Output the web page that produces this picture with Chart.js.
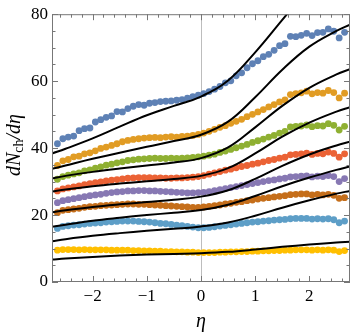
<!DOCTYPE html>
<html lang="en">

<head>
    <meta charset="UTF-8">
    <title>dNch/deta</title>
    <script src="https://cdn.jsdelivr.net/npm/chart.js"></script>
    <style>
        body { margin: 0; background: #fff; }
        #wrap { width: 354px; height: 335px; position: relative; }
    </style>
</head>

<body>
    <div id="wrap"><canvas id="chart"></canvas></div>
    <script>
        // data points (eta positions shared by all series)
        const eta = [-2.65, -2.55, -2.45, -2.35, -2.25, -2.15, -2.05, -1.95, -1.85, -1.75, -1.65, -1.55, -1.45, -1.35,
            -1.25, -1.15, -1.05, -0.95, -0.85, -0.75, -0.65, -0.55, -0.45, -0.35, -0.25, -0.15, -0.05, 0.05, 0.15, 0.25,
            0.35, 0.45, 0.55, 0.65, 0.75, 0.85, 0.95, 1.05, 1.15, 1.25, 1.35, 1.45, 1.55, 1.65, 1.75, 1.85, 1.95, 2.05,
            2.15, 2.25, 2.35, 2.45, 2.55, 2.65];

        const blue = [41.3, 42.8, 43.3, 43.6, 45.2, 45.8, 46.0, 47.8, 48.5, 49.2, 49.6, 50.9, 50.8, 51.8, 52.5, 53.0, 52.8,
            53.4, 53.6, 53.9, 54.0, 54.1, 54.3, 54.5, 54.9, 55.4, 55.8, 56.3, 56.9, 57.6, 58.4, 59.5, 60.1, 61.6, 62.5, 64.0,
            65.2, 66.1, 67.3, 68.0, 69.2, 70.6, 71.2, 73.4, 73.3, 73.7, 74.3, 73.6, 74.5, 74.6, 75.6, 74.9, 72.9, 74.6];
        const orange = [34.8, 36.2, 36.6, 37.4, 37.6, 38.3, 38.6, 39.2, 39.9, 40.3, 40.8, 41.3, 41.9, 42.3, 42.6, 42.8, 43.0,
            43.1, 43.2, 43.1, 43.3, 43.4, 43.3, 43.5, 43.6, 43.8, 44.1, 44.5, 45.0, 45.6, 46.2, 46.7, 47.4, 48.0, 48.6, 49.4,
            50.1, 50.8, 51.5, 52.3, 53.0, 53.8, 54.4, 56.0, 56.3, 56.5, 57.0, 56.2, 56.6, 56.4, 57.2, 56.6, 55.0, 56.4];
        const green = [30.7, 31.5, 31.9, 32.3, 32.6, 33.2, 33.5, 34.0, 34.4, 34.9, 35.2, 35.6, 35.9, 36.3, 36.5, 36.7, 36.8,
            36.9, 37.0, 36.9, 36.9, 37.0, 36.9, 37.0, 37.1, 37.2, 37.4, 37.6, 37.9, 38.2, 38.7, 39.1, 39.6, 40.1, 40.6, 41.1,
            41.7, 42.2, 42.7, 43.3, 43.8, 44.5, 45.0, 46.3, 46.5, 46.6, 46.9, 46.4, 46.7, 46.6, 47.3, 46.8, 45.4, 46.5];
        const red = [27.2, 27.8, 28.1, 28.4, 28.7, 29.1, 29.4, 29.7, 29.9, 30.2, 30.4, 30.6, 30.8, 31.0, 31.1, 31.2, 31.2,
            31.2, 31.1, 31.1, 31.0, 31.0, 31.1, 31.1, 31.2, 31.3, 31.5, 31.8, 32.2, 32.6, 33.0, 33.4, 33.7, 34.1, 34.5, 34.8,
            35.2, 35.5, 35.9, 36.3, 36.6, 37.0, 37.3, 38.0, 38.1, 38.3, 38.5, 38.1, 38.4, 38.3, 38.8, 38.4, 37.3, 38.3];
        const purple = [23.7, 24.3, 24.6, 24.9, 25.2, 25.5, 25.8, 26.0, 26.2, 26.5, 26.7, 26.9, 27.0, 27.2, 27.2, 27.3, 27.3,
            27.2, 27.2, 27.1, 27.0, 26.9, 26.8, 26.7, 26.6, 26.6, 26.7, 26.8, 27.0, 27.3, 27.6, 27.9, 28.2, 28.5, 28.8, 29.1,
            29.4, 29.7, 30.0, 30.3, 30.5, 30.8, 31.0, 31.4, 31.5, 31.6, 31.7, 31.4, 31.6, 31.5, 31.8, 31.5, 30.0, 30.9];
        const brown = [20.7, 21.4, 21.6, 21.8, 22.0, 22.3, 22.5, 22.6, 22.8, 22.9, 23.0, 23.1, 23.2, 23.3, 23.3, 23.2, 23.2,
            23.1, 23.0, 22.9, 22.8, 22.7, 22.6, 22.5, 22.4, 22.3, 22.3, 22.4, 22.6, 22.8, 23.0, 23.3, 23.5, 23.8, 24.0, 24.3,
            24.5, 24.8, 25.0, 25.2, 25.4, 25.6, 25.8, 26.1, 26.2, 26.3, 26.3, 26.0, 26.2, 26.0, 26.2, 25.9, 25.0, 25.2];
        const lightblue = [16.0, 16.6, 16.8, 17.0, 17.1, 17.3, 17.5, 17.6, 17.7, 17.9, 18.0, 18.1, 18.2, 18.2, 18.2, 18.1, 18.0,
            17.9, 17.7, 17.5, 17.4, 17.2, 17.0, 16.8, 16.6, 16.4, 16.2, 16.2, 16.3, 16.5, 16.7, 16.9, 17.1, 17.3, 17.5, 17.7,
            17.9, 18.0, 18.2, 18.3, 18.5, 18.6, 18.7, 18.9, 19.0, 19.0, 19.0, 18.8, 18.9, 18.8, 18.9, 18.6, 17.7, 18.2];
        const yellow = [9.5, 9.7, 9.7, 9.7, 9.6, 9.7, 9.6, 9.6, 9.6, 9.6, 9.5, 9.5, 9.5, 9.5, 9.4, 9.4, 9.3,
            9.3, 9.2, 9.2, 9.1, 9.1, 9.0, 9.0, 8.9, 8.9, 8.8, 8.8, 8.8, 8.8, 8.9, 8.9, 9.0, 9.0, 9.1, 9.1,
            9.2, 9.2, 9.3, 9.3, 9.4, 9.4, 9.5, 9.5, 9.6, 9.6, 9.6, 9.5, 9.6, 9.5, 9.6, 9.5, 9.1, 9.4];

        // model curves (black lines)
        const etaModel = [-2.75, -2.5, -2, -1.5, -1, -0.5, 0, 0.5, 1, 1.5, 2, 2.5, 2.75];
        const modelBlue = [38.4, 39.8, 42.9, 46.4, 49.8, 52.6, 55.4, 60.2, 68.6, 78.3, 88.0, 96.5, 100.0];
        const modelOrange = [33.8, 34.8, 36.8, 38.6, 40.4, 42.1, 44.0, 47.9, 55.2, 63.4, 70.3, 75.0, 76.9];
        const modelGreen = [30.9, 31.7, 32.9, 33.9, 34.8, 35.7, 37.0, 40.2, 46.2, 52.6, 58.0, 62.0, 63.6];
        const modelRed = [27.0, 27.6, 28.6, 29.4, 30.1, 30.8, 31.7, 34.0, 38.4, 43.4, 47.6, 50.9, 52.2];
        const modelPurple = [20.8, 21.4, 22.4, 23.2, 23.9, 24.6, 25.5, 27.4, 30.8, 34.7, 38.1, 40.8, 41.9];
        const modelBrown = [16.5, 17.1, 18.3, 19.2, 20.0, 20.7, 21.5, 23.1, 25.7, 28.6, 31.2, 33.5, 34.5];
        const modelLightblue = [12.2, 12.8, 13.8, 14.6, 15.3, 15.9, 16.6, 17.8, 19.8, 22.2, 24.4, 26.4, 27.2];
        const modelYellow = [6.7, 7.0, 7.5, 7.9, 8.2, 8.4, 8.6, 9.0, 9.7, 10.5, 11.2, 11.8, 12.0];

        const xTicks = [-2, -1, 0, 1, 2];
        const yTicks = [0, 20, 40, 60, 80];

        const series = [blue, orange, green, red, purple, brown, lightblue, yellow];
        const models = [modelBlue, modelOrange, modelGreen, modelRed, modelPurple, modelBrown, modelLightblue, modelYellow];
        const colors = ['#5e81b5', '#e19c24', '#8fb032', '#eb6235', '#8778b3', '#c56e1a', '#5d9ec7', '#ffbf00'];

        const serif = "'Liberation Serif', 'DejaVu Serif', serif";

        let datasets = [];
        models.forEach((m) => {
            datasets.push({
                data: m.map((v, i) => ({ x: etaModel[i], y: v })),
                showLine: true,
                borderColor: '#000',
                borderWidth: 2,
                pointRadius: 0,
                tension: 0.4,
                fill: false,
                clip: 0,
                order: 0
            });
        });
        series.forEach((s, k) => {
            datasets.push({
                data: s.map((v, i) => ({ x: eta[i], y: v })),
                showLine: false,
                pointRadius: 3.4,
                pointBorderWidth: 0,
                pointBackgroundColor: colors[k],
                borderColor: colors[k],
                order: 1
            });
        });

        // frame, inward ticks, zero line and y title
        const framePlugin = {
            id: 'frame',
            beforeDatasetsDraw(chart) {
                const { ctx, chartArea: a, scales: { x } } = chart;
                ctx.save();
                ctx.strokeStyle = '#bdbdbd';
                ctx.lineWidth = 1;
                const x0 = Math.round(x.getPixelForValue(0)) + 0.5;
                ctx.beginPath();
                ctx.moveTo(x0, a.top);
                ctx.lineTo(x0, a.bottom);
                ctx.stroke();
                ctx.restore();
            },
            afterDraw(chart) {
                const { ctx, chartArea: a, scales: { x, y } } = chart;
                ctx.save();
                ctx.strokeStyle = '#777';
                ctx.lineWidth = 1;
                ctx.strokeRect(a.left + 0.5, a.top + 0.5, a.right - a.left - 1, a.bottom - a.top - 1);
                ctx.beginPath();
                for (let v = -2.6; v <= 2.61; v += 0.2) {
                    const big = Math.abs(v - Math.round(v)) < 1e-6;
                    const len = big ? 6 : 3.5;
                    const px = Math.round(x.getPixelForValue(v)) + 0.5;
                    ctx.moveTo(px, a.bottom); ctx.lineTo(px, a.bottom - len);
                    ctx.moveTo(px, a.top); ctx.lineTo(px, a.top + len);
                }
                for (let v = 0; v <= 80; v += 5) {
                    const big = v % 20 === 0;
                    const len = big ? 6 : 3.5;
                    const py = Math.round(y.getPixelForValue(v)) + 0.5;
                    ctx.moveTo(a.left, py); ctx.lineTo(a.left + len, py);
                    ctx.moveTo(a.right, py); ctx.lineTo(a.right - len, py);
                }
                ctx.stroke();

                // x title
                ctx.fillStyle = '#000';
                ctx.font = 'italic 20px ' + serif;
                ctx.textAlign = 'center';
                ctx.textBaseline = 'middle';
                ctx.fillText('η', x.getPixelForValue(0), 322);

                // y title: dN_ch/dη
                ctx.translate(15, (a.top + a.bottom) / 2 - 3);
                ctx.rotate(-Math.PI / 2);
                const parts = [
                    { t: 'dN', f: 'italic 20px ' + serif, dy: 0 },
                    { t: 'ch', f: '14px ' + serif, dy: 4 },
                    { t: '/d', f: 'italic 20px ' + serif, dy: 0 },
                    { t: 'η', f: 'italic 20px ' + serif, dy: 0 }
                ];
                let total = 0;
                parts.forEach((p) => { ctx.font = p.f; p.w = ctx.measureText(p.t).width; total += p.w; });
                let cx = -total / 2;
                ctx.textAlign = 'left';
                ctx.textBaseline = 'middle';
                parts.forEach((p) => {
                    ctx.font = p.f;
                    ctx.fillText(p.t, cx, p.dy);
                    cx += p.w;
                });
                ctx.restore();
            }
        };

        const ctx = document.getElementById('chart').getContext('2d');
        new Chart(ctx, {
            type: 'scatter',
            data: { datasets: datasets },
            options: {
                responsive: true,
                maintainAspectRatio: false,
                animation: false,
                layout: { padding: { top: 11, right: 2, left: 0, bottom: 0 } },
                plugins: { legend: { display: false }, tooltip: { enabled: false } },
                scales: {
                    x: {
                        type: 'linear',
                        min: -2.75,
                        max: 2.75,
                        grid: { display: false, drawTicks: false },
                        border: { display: false },
                        afterBuildTicks: (s) => { s.ticks = xTicks.map((v) => ({ value: v })); },
                        afterFit: (s) => { s.height = 53; },
                        ticks: {
                            padding: 4,
                            color: '#000',
                            font: { family: serif, size: 17 },
                            callback: (v) => (v < 0 ? '\u2212' + Math.abs(v) : String(v))
                        }
                    },
                    y: {
                        type: 'linear',
                        min: 0,
                        max: 80,
                        grid: { display: false, drawTicks: false },
                        border: { display: false },
                        afterBuildTicks: (s) => { s.ticks = yTicks.map((v) => ({ value: v })); },
                        afterFit: (s) => { s.width = 52; },
                        ticks: {
                            padding: 4,
                            color: '#000',
                            font: { family: serif, size: 17 }
                        }
                    }
                }
            },
            plugins: [framePlugin]
        });
    </script>
</body>

</html>
